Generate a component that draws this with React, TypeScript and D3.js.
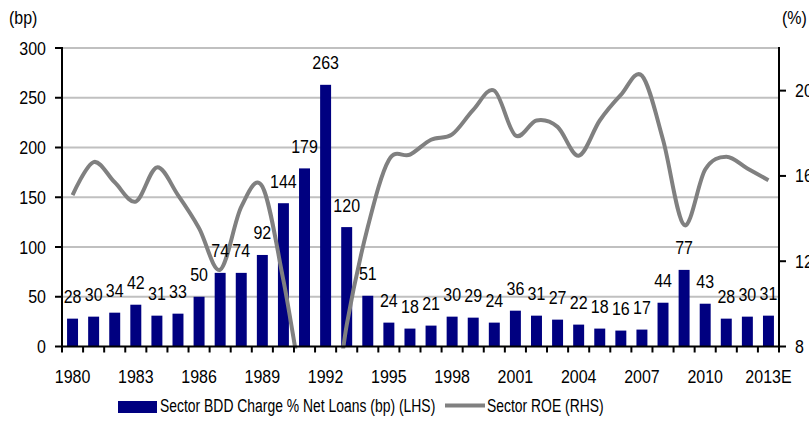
import React from "react";
import * as d3 from "d3";

// Annual figures, 1980 to 2013E
const years: string[] = [
  "1980", "1981", "1982", "1983", "1984", "1985", "1986", "1987", "1988", "1989",
  "1990", "1991", "1992", "1993", "1994", "1995", "1996", "1997", "1998", "1999",
  "2000", "2001", "2002", "2003", "2004", "2005", "2006", "2007", "2008", "2009",
  "2010", "2011", "2012", "2013E",
];

// Sector bad & doubtful debt charge as % of net loans (bp), left axis
const bddCharge: number[] = [
  28, 30, 34, 42, 31, 33, 50, 74, 74, 92,
  144, 179, 263, 120, 51, 24, 18, 21, 30, 29,
  24, 36, 31, 27, 22, 18, 16, 17, 44, 77,
  43, 28, 30, 31,
];

// Sector return on equity (%), right axis
const sectorRoe: number[] = [
  15.1, 16.65, 15.7, 14.8, 16.4, 15.1, 13.55, 11.6, 14.55, 15.5,
  11.1, 5.6, 2.5, 9.0, 13.6, 16.75, 17.0, 17.7, 17.95, 19.1,
  20.0, 17.9, 18.6, 18.3, 16.95, 18.6, 19.8, 20.7, 17.7, 13.7,
  16.3, 16.9, 16.35, 15.8,
];

const leftTicks: number[] = [0, 50, 100, 150, 200, 250, 300];
const rightTicks: number[] = [8, 12, 16, 20];
const labelledYears: string[] = [
  "1980", "1983", "1986", "1989", "1992", "1995", "1998", "2001", "2004", "2007", "2010", "2013E",
];

const W = 809;
const H = 423;
const plot = { left: 62, right: 779, top: 48, bottom: 346.5 };
const FONT = "'Liberation Sans', Arial, sans-serif";
const BAR = "#000080";
const LINE = "#808080";
const GRID = "#c0c0c0";

type TxtProps = {
  x: number;
  y: number;
  anchor?: "start" | "middle" | "end";
  sx?: number;
  sy?: number;
  size?: number;
  children: React.ReactNode;
};

const Txt = ({ x, y, anchor = "start", sx = 1, sy = 1.1, size = 16, children }: TxtProps) => (
  <text
    transform={`translate(${x},${y}) scale(${sx},${sy})`}
    textAnchor={anchor}
    fontFamily={FONT}
    fontSize={size}
    fill="#000"
  >
    {children}
  </text>
);

export default function App() {
  const x = d3
    .scaleBand<string>()
    .domain(years)
    .range([plot.left, plot.right])
    .paddingInner(0.48)
    .paddingOuter(0.24);
  const step = x.step();
  const yL = d3.scaleLinear().domain([0, 300]).range([plot.bottom, plot.top]);
  const yR = d3.scaleLinear().domain([8, 22]).range([plot.bottom, plot.top]);

  const cx = (yr: string) => (x(yr) ?? 0) + x.bandwidth() / 2;

  const roeLine = d3
    .line<number>()
    .x((_, i) => cx(years[i]))
    .y((v) => yR(v))
    .curve(d3.curveCardinal.tension(0));

  const boundaries = d3.range(years.length + 1).map((i) => plot.left + i * step);

  return (
    <svg width={W} height={H} style={{ position: "absolute", left: 0, top: 0 }}>
      <defs>
        <clipPath id="plot-clip">
          <rect x={plot.left} y={plot.top - 2} width={plot.right - plot.left} height={plot.bottom - plot.top + 4} />
        </clipPath>
      </defs>
      <rect width={W} height={H} fill="#fff" />

      {/* horizontal gridlines */}
      {leftTicks
        .filter((t) => t > 0)
        .map((t) => (
          <line key={`g${t}`} x1={plot.left} x2={plot.right} y1={yL(t)} y2={yL(t)} stroke={GRID} strokeWidth={2} />
        ))}

      {/* bars */}
      {bddCharge.map((v, i) => (
        <rect
          key={`b${i}`}
          x={x(years[i])}
          y={yL(v)}
          width={x.bandwidth()}
          height={yL(0) - yL(v)}
          fill={BAR}
        />
      ))}

      {/* ROE line */}
      <path
        d={roeLine(sectorRoe) ?? ""}
        fill="none"
        stroke={LINE}
        strokeWidth={4}
        strokeLinejoin="round"
        clipPath="url(#plot-clip)"
      />

      {/* bar value labels */}
      {bddCharge.map((v, i) => (
        <Txt key={`l${i}`} x={cx(years[i])} y={yL(v) - 15.5} anchor="middle">
          {v}
        </Txt>
      ))}

      {/* left axis */}
      <line x1={plot.left} x2={plot.left} y1={plot.top - 1} y2={plot.bottom + 1} stroke="#000" strokeWidth={2} />
      {leftTicks.map((t) => (
        <g key={`lt${t}`}>
          <line x1={plot.left - 7} x2={plot.left} y1={yL(t)} y2={yL(t)} stroke="#000" strokeWidth={2} />
          <Txt x={46} y={yL(t) + 6.5} anchor="end">
            {t}
          </Txt>
        </g>
      ))}
      <Txt x={9} y={24}>(bp)</Txt>

      {/* right axis */}
      <line x1={plot.right} x2={plot.right} y1={plot.top - 1} y2={plot.bottom + 1} stroke="#000" strokeWidth={2} />
      {rightTicks.map((t) => (
        <g key={`rt${t}`}>
          <line x1={plot.right} x2={plot.right + 7} y1={yR(t)} y2={yR(t)} stroke="#000" strokeWidth={2} />
          <Txt x={795} y={yR(t) + 6.5}>{t}</Txt>
        </g>
      ))}
      <Txt x={782} y={24}>(%)</Txt>

      {/* category axis */}
      <line x1={plot.left} x2={plot.right} y1={plot.bottom} y2={plot.bottom} stroke="#000" strokeWidth={2} />
      {boundaries.map((bx, i) => (
        <line key={`xt${i}`} x1={bx} x2={bx} y1={plot.bottom} y2={plot.bottom + 6} stroke="#000" strokeWidth={2} />
      ))}
      {labelledYears.map((yr) => (
        <Txt key={`xl${yr}`} x={cx(yr)} y={383} anchor="middle">
          {yr}
        </Txt>
      ))}

      {/* legend */}
      <rect x={118} y={401} width={39} height={12} fill={BAR} />
      <Txt x={160} y={412} sx={0.87}>Sector BDD Charge % Net Loans (bp) (LHS)</Txt>
      <line x1={445} x2={485} y1={405.5} y2={405.5} stroke={LINE} strokeWidth={4} />
      <Txt x={487} y={412} sx={0.87}>Sector ROE (RHS)</Txt>
    </svg>
  );
}
